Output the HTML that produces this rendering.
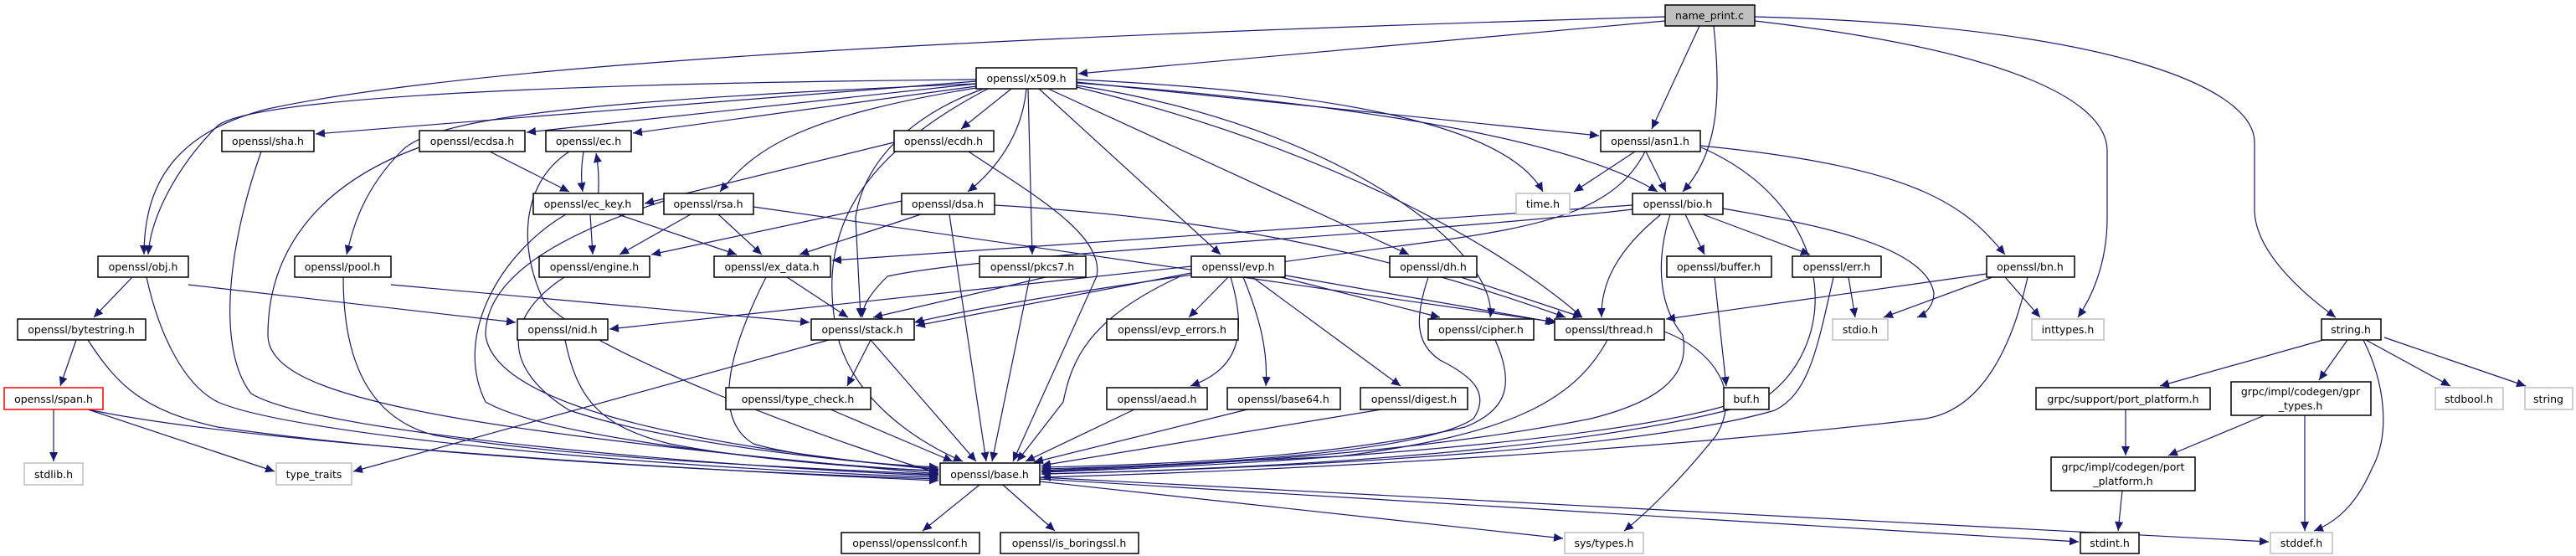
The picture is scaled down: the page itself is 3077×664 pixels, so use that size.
<!DOCTYPE html>
<html><head><meta charset="utf-8"><style>
html,body{margin:0;padding:0;background:#fff;}
svg{display:block;}
text{font-family:"DejaVu Sans","Liberation Sans",sans-serif;font-size:12.5px;fill:#000;text-anchor:middle;}
.e{fill:none;stroke:#191970;stroke-width:1.2;marker-end:url(#a);}
.n{fill:#fff;stroke:#000;stroke-width:1.5;}
.g{fill:#fff;stroke:#bfbfbf;stroke-width:1.5;}
</style></head><body>
<svg width="3077" height="664" viewBox="0 0 3077 664" xmlns="http://www.w3.org/2000/svg">
<defs><marker id="a" markerUnits="userSpaceOnUse" markerWidth="12" markerHeight="10" refX="11" refY="5" orient="auto"><path d="M0,0 L11,5 L0,10 z" fill="#191970"/></marker></defs>
<g>
<!-- name_print.c -->
<path class="e" d="M1989,25 L1288,88"/>
<path class="e" d="M1989,20 C1300,40 600,70 320,130 C200,160 172,230 172,304"/>
<path class="e" d="M2030,31 L1973,154"/>
<path class="e" d="M2047,31 C2055,110 2055,180 2010,229"/>
<path class="e" d="M2096,25 C2400,60 2517,120 2517,180 L2517,260 C2517,320 2495,360 2482,379"/>
<path class="e" d="M2096,20 C2500,30 2693,100 2693,170 L2693,250 C2693,300 2750,350 2790,379"/>
<!-- x509 -->
<path class="e" d="M1166,95 C600,100 300,120 260,150 C210,200 180,260 177,304"/>
<path class="e" d="M1166,97 L377,160"/>
<path class="e" d="M1166,100 C700,120 520,140 480,180 C430,230 420,280 414,304"/>
<path class="e" d="M1166,100 L629,158"/>
<path class="e" d="M1166,103 L756,159"/>
<path class="e" d="M1208,106 L1148,154"/>
<path class="e" d="M1166,105 C950,140 900,180 860,229"/>
<path class="e" d="M1226,106 C1220,170 1180,210 1156,229"/>
<path class="e" d="M1228,106 L1233,304"/>
<path class="e" d="M1241,106 L1458,304"/>
<path class="e" d="M1252,106 L1683,304"/>
<path class="e" d="M1175,106 C1080,140 1030,200 1022,260 L1028,379"/>
<path class="e" d="M1180,106 C1000,200 980,300 1000,400 C1020,480 1100,530 1150,551"/>
<path class="e" d="M1286,95 C1600,110 1800,150 1843,229"/>
<path class="e" d="M1286,98 L1910,162"/>
<path class="e" d="M1286,99 C1700,130 1900,180 1980,229"/>
<path class="e" d="M1286,102 C1600,150 1790,300 1780,379"/>
<path class="e" d="M1286,104 C1600,180 1800,300 1890,379"/>
<!-- ec family -->
<path class="e" d="M1068,170 L770,243"/>
<path class="e" d="M585,181 L680,229"/>
<path class="e" d="M697,181 C694,200 694,215 696,229"/>
<path class="e" d="M712,256 C716,230 716,205 712,183"/>
<path class="e" d="M705,256 L708,304"/>
<path class="e" d="M738,256 L880,304"/>
<path class="e" d="M825,256 L740,304"/>
<path class="e" d="M858,256 L910,304"/>
<path class="e" d="M900,247 L1860,385"/>
<path class="e" d="M1077,240 L778,304"/>
<path class="e" d="M1100,256 L955,304"/>
<path class="e" d="M1188,245 C1450,260 1650,300 1870,379"/>
<path class="e" d="M1950,245 L994,311"/>
<!-- obj etc -->
<path class="e" d="M158,331 L112,379"/>
<path class="e" d="M225,340 L616,385"/>
<path class="e" d="M467,340 L967,385"/>
<path class="e" d="M940,331 L1013,379"/>
<path class="e" d="M91,406 L72,461"/>
<path class="e" d="M64,489 L64,551"/>
<path class="e" d="M105,489 L328,563"/>
<path class="e" d="M990,406 L422,563"/>
<path class="e" d="M1040,406 L1012,461"/>
<path class="e" d="M1249,331 L1043,379"/>
<path class="e" d="M1423,318 L728,393"/>
<path class="e" d="M1423,326 L1094,389"/>
<path class="e" d="M1467,331 L1420,379"/>
<path class="e" d="M1470,331 C1490,400 1480,440 1422,461"/>
<path class="e" d="M1485,331 C1505,380 1515,420 1512,461"/>
<path class="e" d="M1496,331 L1673,461"/>
<path class="e" d="M1530,331 L1720,379"/>
<path class="e" d="M1530,328 L1857,385"/>
<path class="e" d="M1745,331 L1890,379"/>
<!-- asn1 / bio -->
<path class="e" d="M1953,181 L1880,229"/>
<path class="e" d="M1966,181 L1990,229"/>
<path class="e" d="M2031,174 C2300,200 2350,250 2395,304"/>
<path class="e" d="M1965,181 C1930,250 1850,270 1700,290 C1400,330 1200,360 1092,385"/>
<path class="e" d="M1950,250 C1700,280 1200,300 1060,330 C1040,350 1030,365 1030,379"/>
<path class="e" d="M1984,256 C1930,300 1912,340 1913,379"/>
<path class="e" d="M2013,256 L2036,304"/>
<path class="e" d="M2034,256 L2162,304"/>
<path class="e" d="M2058,249 C2150,265 2300,290 2310,350 C2310,365 2300,375 2290,379"/>
<path class="e" d="M2208,331 L2216,379"/>
<path class="e" d="M2380,331 L2250,379"/>
<path class="e" d="M2395,331 L2437,379"/>
<path class="e" d="M2373,327 L1990,381"/>
<path class="e" d="M2048,331 L2062,461"/>
<!-- base incoming -->
<path class="e" d="M312,181 C270,300 260,420 300,470 C380,520 900,560 1121,568"/>
<path class="e" d="M501,176 C380,220 320,300 320,400 C320,470 500,510 1121,566"/>
<path class="e" d="M680,181 C620,220 620,300 650,360 C700,420 1000,530 1121,565"/>
<path class="e" d="M676,256 C600,300 540,400 580,480 C650,520 900,550 1121,563"/>
<path class="e" d="M793,240 C700,270 580,320 580,400 C590,480 800,530 1121,561"/>
<path class="e" d="M674,331 C600,380 600,440 680,490 C800,530 1000,550 1121,560"/>
<path class="e" d="M175,331 C190,400 220,460 260,480 C350,520 800,560 1121,570"/>
<path class="e" d="M410,331 C410,430 440,500 520,520 C700,550 1000,560 1121,567"/>
<path class="e" d="M105,406 C140,460 170,490 260,510 C500,545 900,565 1121,572"/>
<path class="e" d="M105,489 C300,530 800,560 1121,574"/>
<path class="e" d="M675,406 C690,480 720,510 800,530 C900,550 1050,560 1121,562"/>
<path class="e" d="M915,331 C870,420 850,500 900,530 C950,545 1050,555 1121,558"/>
<path class="e" d="M992,489 L1138,551"/>
<path class="e" d="M1040,406 L1166,551"/>
<path class="e" d="M1134,256 L1178,551"/>
<path class="e" d="M1230,331 L1185,551"/>
<path class="e" d="M1157,181 C1230,230 1320,280 1310,330 L1210,551"/>
<path class="e" d="M1410,330 C1300,380 1280,430 1270,480 L1215,551"/>
<path class="e" d="M1355,489 L1225,551"/>
<path class="e" d="M1490,489 L1235,552"/>
<path class="e" d="M1650,489 L1244,556"/>
<path class="e" d="M1786,406 C1810,460 1800,490 1750,510 C1600,545 1400,555 1244,558"/>
<path class="e" d="M1706,331 C1690,380 1690,410 1720,430 C1760,450 1780,470 1760,500 C1700,540 1450,555 1244,560"/>
<path class="e" d="M1920,406 C1880,480 1800,520 1600,545 L1244,562"/>
<path class="e" d="M2060,485 C1900,530 1500,555 1244,564"/>
<path class="e" d="M2190,331 C2170,420 2160,470 2120,490 C1950,540 1500,560 1244,566"/>
<path class="e" d="M2422,331 C2400,430 2360,490 2300,500 C2000,535 1600,560 1244,570"/>
<path class="e" d="M1995,256 C1975,320 1985,370 2010,400 C2020,450 1980,480 1900,500 C1700,540 1450,555 1244,563"/>
<path class="e" d="M2032,176 C2200,250 2200,420 2100,480 C1900,540 1500,560 1244,566"/>
<!-- base outgoing -->
<path class="e" d="M1170,579 L1102,634"/>
<path class="e" d="M1198,579 L1260,634"/>
<path class="e" d="M1242,575 L1867,643"/>
<path class="e" d="M1242,572 L2483,647"/>
<path class="e" d="M1242,570 L2710,647"/>
<path class="e" d="M1988,396 C2050,420 2080,470 2050,520 C2010,570 1970,610 1940,634"/>
<!-- string.h & grpc -->
<path class="e" d="M2775,406 L2580,461"/>
<path class="e" d="M2804,406 L2770,454"/>
<path class="e" d="M2826,406 L2927,461"/>
<path class="e" d="M2848,403 L3017,461"/>
<path class="e" d="M2823,406 C2850,460 2855,520 2833,560 C2820,590 2800,620 2764,634"/>
<path class="e" d="M2539,489 L2539,544"/>
<path class="e" d="M2705,496 L2590,544"/>
<path class="e" d="M2753,496 L2753,634"/>
<path class="e" d="M2535,586 L2530,634"/>
</g>
<g>
<rect class="n" x="1989" y="6" width="107" height="25" style="fill:#bfbfbf"/><text x="2042" y="23">name_print.c</text>
<rect class="n" x="1166" y="81" width="120" height="25"/><text x="1226" y="98">openssl/x509.h</text>
<rect class="n" x="265" y="156" width="110" height="25"/><text x="320" y="173">openssl/sha.h</text>
<rect class="n" x="501" y="156" width="126" height="25"/><text x="564" y="173">openssl/ecdsa.h</text>
<rect class="n" x="652" y="156" width="102" height="25"/><text x="703" y="173">openssl/ec.h</text>
<rect class="n" x="1068" y="156" width="119" height="25"/><text x="1127" y="173">openssl/ecdh.h</text>
<rect class="n" x="1912" y="156" width="119" height="25"/><text x="1971" y="173">openssl/asn1.h</text>
<rect class="n" x="637" y="231" width="131" height="25"/><text x="702" y="248">openssl/ec_key.h</text>
<rect class="n" x="793" y="231" width="107" height="25"/><text x="846" y="248">openssl/rsa.h</text>
<rect class="n" x="1077" y="231" width="111" height="25"/><text x="1132" y="248">openssl/dsa.h</text>
<rect class="g" x="1811" y="231" width="64" height="25"/><text x="1843" y="248">time.h</text>
<rect class="n" x="1950" y="231" width="108" height="25"/><text x="2004" y="248">openssl/bio.h</text>
<rect class="n" x="117" y="306" width="108" height="25"/><text x="171" y="323">openssl/obj.h</text>
<rect class="n" x="352" y="306" width="115" height="25"/><text x="409" y="323">openssl/pool.h</text>
<rect class="n" x="644" y="306" width="132" height="25"/><text x="710" y="323">openssl/engine.h</text>
<rect class="n" x="853" y="306" width="139" height="25"/><text x="922" y="323">openssl/ex_data.h</text>
<rect class="n" x="1170" y="306" width="127" height="25"/><text x="1233" y="323">openssl/pkcs7.h</text>
<rect class="n" x="1423" y="306" width="112" height="25"/><text x="1479" y="323">openssl/evp.h</text>
<rect class="n" x="1660" y="306" width="104" height="25"/><text x="1712" y="323">openssl/dh.h</text>
<rect class="n" x="1991" y="306" width="125" height="25"/><text x="2053" y="323">openssl/buffer.h</text>
<rect class="n" x="2141" y="306" width="106" height="25"/><text x="2194" y="323">openssl/err.h</text>
<rect class="n" x="2373" y="306" width="105" height="25"/><text x="2425" y="323">openssl/bn.h</text>
<rect class="n" x="21" y="381" width="153" height="25"/><text x="97" y="398">openssl/bytestring.h</text>
<rect class="n" x="618" y="381" width="108" height="25"/><text x="672" y="398">openssl/nid.h</text>
<rect class="n" x="969" y="381" width="123" height="25"/><text x="1030" y="398">openssl/stack.h</text>
<rect class="n" x="1322" y="381" width="157" height="25"/><text x="1400" y="398">openssl/evp_errors.h</text>
<rect class="n" x="1706" y="381" width="126" height="25"/><text x="1769" y="398">openssl/cipher.h</text>
<rect class="n" x="1857" y="381" width="131" height="25"/><text x="1922" y="398">openssl/thread.h</text>
<rect class="g" x="2189" y="381" width="66" height="25"/><text x="2222" y="398">stdio.h</text>
<rect class="g" x="2427" y="381" width="86" height="25"/><text x="2470" y="398">inttypes.h</text>
<rect class="n" x="2773" y="381" width="71" height="25"/><text x="2808" y="398">string.h</text>
<rect class="n" x="5" y="463" width="118" height="26" style="stroke:#ff0000"/><text x="64" y="481">openssl/span.h</text>
<rect class="n" x="867" y="463" width="173" height="26"/><text x="953" y="481">openssl/type_check.h</text>
<rect class="n" x="1322" y="463" width="120" height="26"/><text x="1382" y="481">openssl/aead.h</text>
<rect class="n" x="1466" y="463" width="135" height="26"/><text x="1533" y="481">openssl/base64.h</text>
<rect class="n" x="1625" y="463" width="128" height="26"/><text x="1689" y="481">openssl/digest.h</text>
<rect class="n" x="2059" y="463" width="54" height="26"/><text x="2086" y="481">buf.h</text>
<rect class="n" x="2432" y="463" width="208" height="26"/><text x="2536" y="481">grpc/support/port_platform.h</text>
<rect class="n" x="2665" y="456" width="167" height="40"/><text x="2748" y="472">grpc/impl/codegen/gpr</text><text x="2748" y="489">_types.h</text>
<rect class="g" x="2909" y="463" width="81" height="26"/><text x="2949" y="481">stdbool.h</text>
<rect class="g" x="3016" y="463" width="57" height="26"/><text x="3044" y="481">string</text>
<rect class="g" x="29" y="553" width="70" height="26"/><text x="64" y="571">stdlib.h</text>
<rect class="g" x="330" y="553" width="90" height="26"/><text x="375" y="571">type_traits</text>
<rect class="n" x="1123" y="553" width="119" height="26"/><text x="1182" y="571">openssl/base.h</text>
<rect class="n" x="2450" y="546" width="172" height="40"/><text x="2536" y="562">grpc/impl/codegen/port</text><text x="2536" y="579">_platform.h</text>
<rect class="n" x="1005" y="636" width="165" height="25"/><text x="1087" y="653">openssl/opensslconf.h</text>
<rect class="n" x="1195" y="636" width="165" height="25"/><text x="1277" y="653">openssl/is_boringssl.h</text>
<rect class="g" x="1869" y="636" width="94" height="25"/><text x="1916" y="653">sys/types.h</text>
<rect class="n" x="2485" y="636" width="70" height="25"/><text x="2520" y="653">stdint.h</text>
<rect class="g" x="2712" y="636" width="74" height="25"/><text x="2749" y="653">stddef.h</text>
</g>
</svg>
</body></html>
